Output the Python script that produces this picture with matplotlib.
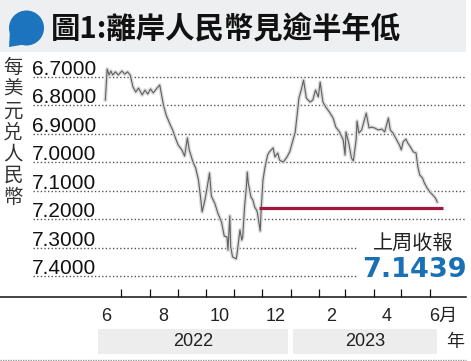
import matplotlib
matplotlib.use('Agg')
import matplotlib.pyplot as plt
import matplotlib.dates as mdates
import matplotlib.patches as mpatches
import matplotlib.transforms as mtransforms
from matplotlib.lines import Line2D
import numpy as np
import datetime as dt

plt.rcParams['font.family'] = ['Liberation Sans', 'Noto Sans CJK TC', 'DejaVu Sans']

# ---------------- data ----------------
dates = [
    '2022-06-14', '2022-06-16', '2022-06-18', '2022-06-20', '2022-06-22', '2022-06-25', '2022-06-28',
    '2022-07-02', '2022-07-05', '2022-07-08', '2022-07-11', '2022-07-14', '2022-07-17', '2022-07-20',
    '2022-07-24', '2022-07-27', '2022-07-30', '2022-08-02', '2022-08-05', '2022-08-09', '2022-08-12',
    '2022-08-14', '2022-08-16', '2022-08-19', '2022-08-23', '2022-08-26', '2022-08-29', '2022-09-01',
    '2022-09-05', '2022-09-08', '2022-09-11', '2022-09-13', '2022-09-17', '2022-09-20', '2022-09-23',
    '2022-09-25', '2022-09-27', '2022-09-30', '2022-10-02', '2022-10-05', '2022-10-07', '2022-10-11',
    '2022-10-14', '2022-10-18', '2022-10-21', '2022-10-24', '2022-10-25', '2022-10-27', '2022-10-28',
    '2022-10-30', '2022-11-03', '2022-11-04', '2022-11-07', '2022-11-09', '2022-11-10', '2022-11-12',
    '2022-11-14', '2022-11-15', '2022-11-16', '2022-11-19', '2022-11-21', '2022-11-23', '2022-11-25',
    '2022-11-26', '2022-11-29', '2022-11-30', '2022-12-02', '2022-12-04', '2022-12-07', '2022-12-09',
    '2022-12-13', '2022-12-15', '2022-12-18', '2022-12-20', '2022-12-24', '2022-12-28', '2022-12-31',
    '2023-01-03', '2023-01-06', '2023-01-08', '2023-01-10', '2023-01-13', '2023-01-15', '2023-01-18',
    '2023-01-22', '2023-01-25', '2023-01-28', '2023-01-31', '2023-02-02', '2023-02-05', '2023-02-08',
    '2023-02-12', '2023-02-16', '2023-02-19', '2023-02-23', '2023-02-27', '2023-03-01', '2023-03-02',
    '2023-03-05', '2023-03-08', '2023-03-10', '2023-03-13', '2023-03-14', '2023-03-16', '2023-03-19',
    '2023-03-21', '2023-03-24', '2023-03-27', '2023-03-30', '2023-04-02', '2023-04-06', '2023-04-10',
    '2023-04-13', '2023-04-17', '2023-04-19', '2023-04-22', '2023-04-26', '2023-04-29', '2023-05-01',
    '2023-05-03', '2023-05-06', '2023-05-08', '2023-05-11', '2023-05-14', '2023-05-17', '2023-05-19',
    '2023-05-21', '2023-05-24', '2023-05-26', '2023-05-29', '2023-06-01', '2023-06-04', '2023-06-07',
    '2023-06-09',
]
rates = [
    6.782, 6.673, 6.694, 6.680, 6.694, 6.683, 6.694,
    6.680, 6.691, 6.683, 6.694, 6.736, 6.754, 6.740,
    6.764, 6.747, 6.761, 6.743, 6.757, 6.740, 6.729,
    6.764, 6.799, 6.835, 6.866, 6.887, 6.915, 6.940,
    6.957, 6.979, 6.915, 6.957, 6.999, 7.021, 7.063,
    7.116, 7.175, 7.133, 7.098, 7.038, 7.119, 7.147,
    7.179, 7.210, 7.260, 7.263, 7.309, 7.189, 7.298,
    7.333, 7.340, 7.319, 7.238, 7.274, 7.263, 7.158,
    7.087, 7.035, 7.073, 7.123, 7.133, 7.158, 7.168,
    7.179, 7.242, 7.168, 7.063, 7.021, 6.975, 6.964,
    6.950, 6.982, 6.968, 6.993, 7.000, 6.982, 6.964,
    6.929, 6.894, 6.835, 6.775, 6.740, 6.712, 6.775,
    6.789, 6.782, 6.747, 6.771, 6.719, 6.789, 6.806,
    6.824, 6.845, 6.877, 6.894, 6.922, 6.975, 6.894,
    6.933, 6.986, 6.996, 6.922, 6.856, 6.898, 6.887,
    6.863, 6.828, 6.880, 6.877, 6.880, 6.887, 6.884,
    6.894, 6.845, 6.887, 6.898, 6.922, 6.940, 6.957,
    6.929, 6.919, 6.933, 6.947, 6.964, 6.968, 7.017,
    7.045, 7.056, 7.073, 7.091, 7.105, 7.115, 7.126,
    7.140,
]

y_ticks = [6.7, 6.8, 6.9, 7.0, 7.1, 7.2, 7.3, 7.4]
y_tick_labels = ['6.7000', '6.8000', '6.9000', '7.0000', '7.1000', '7.2000', '7.3000', '7.4000']

month_tick_dates = ['2022-07-01', '2022-08-01', '2022-09-01', '2022-10-01', '2022-11-01', '2022-12-01',
                    '2023-01-01', '2023-02-01', '2023-03-01', '2023-04-01', '2023-05-01', '2023-06-01']
month_label_dates = ['2022-06-15', '2022-08-16', '2022-10-16', '2022-12-16', '2023-02-14', '2023-04-15', '2023-06-15']
month_labels = ['6', '8', '10', '12', '2', '4', '6月']

year_labels = ['2022', '2023']
year_box_start = ['2022-06-06', '2023-01-04']
year_box_end = ['2022-12-29', '2023-06-09']

ref_line_start = '2022-11-28'
ref_line_end = '2023-06-15'
ref_line_level = 7.16
last_close_text = '7.1439'

title = '圖1:離岸人民幣見逾半年低'
ylabel = '每美元兑人民幣'

# ---------------- figure ----------------
W, H = 471, 361
fig = plt.figure(figsize=(W / 100, H / 100), dpi=100)
fig.patch.set_facecolor('white')

# decoration layer in pixel coordinates
deco = fig.add_axes([0, 0, 1, 1], zorder=0)
deco.set_xlim(0, W)
deco.set_ylim(H, 0)
deco.axis('off')

# title bar
deco.add_patch(mpatches.Rectangle((0, 0), 466, 52, facecolor='#eeeff1', edgecolor='none'))
deco.add_patch(mpatches.Circle((26.5, 28), 17.5, facecolor='#1b74bd', edgecolor='none'))
deco.add_patch(mpatches.Polygon([(10, 30), (9, 47), (27, 44)], closed=True, facecolor='#1b74bd', edgecolor='none'))
deco.text(51, 29, title, ha='left', va='center', fontsize=21.2, fontweight='bold',
          family=['Noto Sans CJK TC', 'DejaVu Sans'], color='#111111')

# vertical y label
deco.text(13, 57, '\n'.join(ylabel), ha='center', va='top', fontsize=14, linespacing=1.04,
          family=['Noto Sans CJK TC', 'DejaVu Sans'], color='#333333')

# bottom dotted rule
deco.add_line(Line2D([0, 466], [359.5, 359.5], color='#999999', lw=1.0, linestyle=(0, (1, 0.8))))

# annotation texts
deco.text(413.5, 243, '上周收報', ha='center', va='center', fontsize=14.5,
          family=['Noto Sans CJK TC', 'DejaVu Sans'], color='#222222')
deco.text(414, 270, last_close_text, ha='center', va='center', fontsize=19.5, fontweight='bold',
          family='DejaVu Sans', color='#1a70b5')
deco.text(455, 342, '年', ha='center', va='center', fontsize=13,
          family=['Noto Sans CJK TC', 'DejaVu Sans'], color='#222222')

# main axes
ax_top_px, ax_bot_px = 55, 296.7
ax = fig.add_axes([0, (H - ax_bot_px) / H, 466 / W, (ax_bot_px - ax_top_px) / H], zorder=1)
ax.set_facecolor('none')

d0 = mdates.date2num(dt.date(2022, 7, 1))
px_per_day = 0.922
ax.set_xlim(d0 - 121 / px_per_day, d0 + (466 - 121) / px_per_day)
px_per_unit = 284.7
ax.set_ylim(6.7 + (ax_bot_px - 76.7) / px_per_unit, 6.7 - (76.7 - ax_top_px) / px_per_unit)

for s in ['top', 'left', 'right']:
    ax.spines[s].set_visible(False)
ax.spines['bottom'].set_color('#111111')
ax.spines['bottom'].set_linewidth(1.1)

# gridlines + y labels
ytrans = ax.get_yaxis_transform()
lab_trans = mtransforms.offset_copy(ytrans, fig=fig, y=2, units='dots')
for v, lab in zip(y_ticks, y_tick_labels):
    xmax = 1.0 if v <= 7.2 else 357 / 466
    ax.hlines(v, 33 / 466, xmax, transform=ytrans, colors='#555555', lw=1.0,
              linestyles=(0, (1, 1.6)), zorder=1)
    ax.text(32 / 466, v, lab, transform=lab_trans, ha='left', va='baseline',
            fontsize=15, color='#111111', zorder=3)
ax.set_yticks([])

# data line
xd = [mdates.datestr2num(d) for d in dates]
ax.plot(xd, rates, color='#dcdcdc', lw=2.8, solid_joinstyle='round', zorder=2)
ax.plot(xd, rates, color='#606060', lw=0.8, solid_joinstyle='round', zorder=2.5)

# reference line
ax.plot([mdates.datestr2num(ref_line_start), mdates.datestr2num(ref_line_end)],
        [ref_line_level, ref_line_level], color='#a3173c', lw=2.3, solid_capstyle='butt', zorder=4)

# x ticks
ax.set_xticks([mdates.datestr2num(d) for d in month_tick_dates])
ax.tick_params(axis='x', which='major', direction='in', length=6, width=0.9, color='#111111',
               labelbottom=False)
ax.set_xticks([mdates.datestr2num(d) for d in month_label_dates], labels=month_labels, minor=True)
ax.tick_params(axis='x', which='minor', length=0, pad=8, labelsize=13, labelcolor='#222222')
for t in ax.get_xticklabels(minor=True):
    t.set_fontfamily(['Liberation Sans', 'Noto Sans CJK TC'])

# year boxes
btrans = mtransforms.blended_transform_factory(ax.transData, deco.transData)
for lab, s, e in zip(year_labels, year_box_start, year_box_end):
    xs, xe = mdates.datestr2num(s), mdates.datestr2num(e)
    ax.add_patch(mpatches.Rectangle((xs, 329), xe - xs, 25, transform=btrans,
                                    facecolor='#ededed', edgecolor='none', clip_on=False))
    ax.text((xs + xe) / 2, 342, lab, transform=btrans, ha='center', va='center',
            fontsize=13, color='#222222', clip_on=False)

fig.savefig('out.png', dpi=100, facecolor='white')
